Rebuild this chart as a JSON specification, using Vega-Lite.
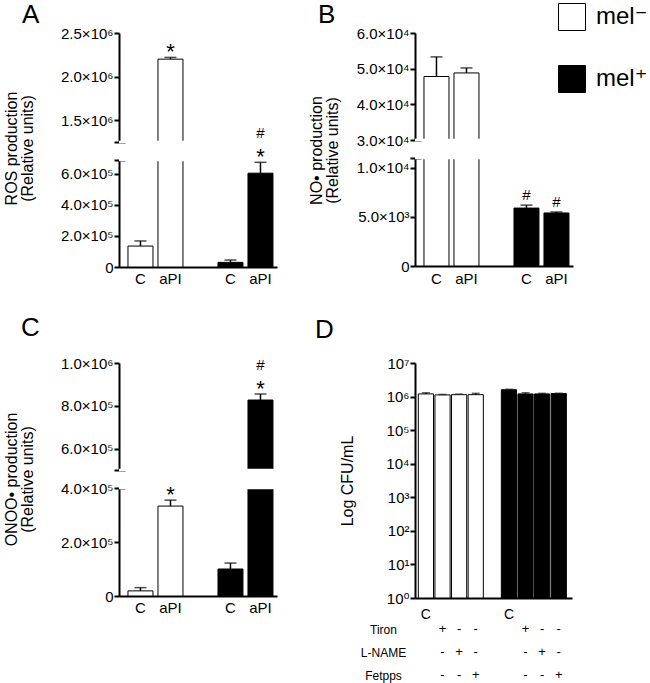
{
"$schema":"https://vega.github.io/schema/vega-lite/v6.json",
"padding":{"left":2,"top":2,"right":5,"bottom":3},
"config":{
 "font":"Liberation Sans, DejaVu Sans, sans-serif",
 "view":{"stroke":null},
 "axis":{"domainColor":"black","domainWidth":2,"tickColor":"black","tickWidth":2,"tickSize":5,"labelColor":"black","labelFontSize":15,"labelPadding":1,"titleColor":"black","titleFontSize":16,"titleFontWeight":"normal","titleLineHeight":16,"grid":false,"zindex":1,"labelFont":"Liberation Sans, DejaVu Sans, sans-serif","titleFont":"Liberation Sans, DejaVu Sans, sans-serif"},
 "title":{"fontSize":26,"fontWeight":"normal","anchor":"start","frame":"group","offset":0,"color":"black","font":"Liberation Sans, DejaVu Sans, sans-serif"},
 "text":{"color":"black"}
},
"datasets":{
 "A":[
  {"pos":"C1","grp":"mel⁻","value":135000,"hi":168000,"seg":"bot","star":"","hash":""},
  {"pos":"aPI1","grp":"mel⁻","value":2200000,"hi":2220000,"seg":"top","star":"*","hash":""},
  {"pos":"C2","grp":"mel⁺","value":30000,"hi":45000,"seg":"bot","star":"","hash":""},
  {"pos":"aPI2","grp":"mel⁺","value":605000,"hi":675000,"seg":"bot","star":"*","hash":"#"}
 ],
 "B":[
  {"pos":"C1","grp":"mel⁻","value":47800,"hi":53300,"seg":"top","star":"","hash":""},
  {"pos":"aPI1","grp":"mel⁻","value":48800,"hi":50200,"seg":"top","star":"","hash":""},
  {"pos":"C2","grp":"mel⁺","value":5900,"hi":6200,"seg":"bot","star":"","hash":"#"},
  {"pos":"aPI2","grp":"mel⁺","value":5400,"hi":5500,"seg":"bot","star":"","hash":"#"}
 ],
 "C":[
  {"pos":"C1","grp":"mel⁻","value":19000,"hi":31000,"seg":"bot","star":"","hash":""},
  {"pos":"aPI1","grp":"mel⁻","value":333000,"hi":355000,"seg":"bot","star":"*","hash":""},
  {"pos":"C2","grp":"mel⁺","value":100000,"hi":122000,"seg":"bot","star":"","hash":""},
  {"pos":"aPI2","grp":"mel⁺","value":827000,"hi":855000,"seg":"top","star":"*","hash":"#"}
 ],
 "D":[
  {"pos":"w1","grp":"mel⁻","value":1200000,"hi":1300000},
  {"pos":"w2","grp":"mel⁻","value":1120000,"hi":1160000},
  {"pos":"w3","grp":"mel⁻","value":1140000,"hi":1180000},
  {"pos":"w4","grp":"mel⁻","value":1140000,"hi":1250000},
  {"pos":"b1","grp":"mel⁺","value":1600000,"hi":1650000},
  {"pos":"b2","grp":"mel⁺","value":1200000,"hi":1300000},
  {"pos":"b3","grp":"mel⁺","value":1200000,"hi":1250000},
  {"pos":"b4","grp":"mel⁺","value":1230000,"hi":1260000}
 ],
 "Dtab":[
  {"pos":"w2","row":"Tiron","sym":"+"},{"pos":"w3","row":"Tiron","sym":"-"},{"pos":"w4","row":"Tiron","sym":"-"},
  {"pos":"b2","row":"Tiron","sym":"+"},{"pos":"b3","row":"Tiron","sym":"-"},{"pos":"b4","row":"Tiron","sym":"-"},
  {"pos":"w2","row":"L-NAME","sym":"-"},{"pos":"w3","row":"L-NAME","sym":"+"},{"pos":"w4","row":"L-NAME","sym":"-"},
  {"pos":"b2","row":"L-NAME","sym":"-"},{"pos":"b3","row":"L-NAME","sym":"+"},{"pos":"b4","row":"L-NAME","sym":"-"},
  {"pos":"w2","row":"Fetpps","sym":"-"},{"pos":"w3","row":"Fetpps","sym":"-"},{"pos":"w4","row":"Fetpps","sym":"+"},
  {"pos":"b2","row":"Fetpps","sym":"-"},{"pos":"b3","row":"Fetpps","sym":"-"},{"pos":"b4","row":"Fetpps","sym":"+"}
 ]
},
"columns":2,
"spacing":{"row":96,"column":138},
"bounds":"flush",
"concat":[
 {
  "width":158,"height":234,
  "data":{"name":"A"},
  "title":{"text":"A","dx":-97,"dy":6},
  "resolve":{"scale":{"y":"independent"}},
  "layer":[
   {"resolve":{"axis":{"y":"independent"}},
    "layer":[
     {"mark":{"type":"bar","stroke":"black","strokeWidth":1},
      "encoding":{
       "x":{"field":"pos","type":"nominal","title":null,"scale":{"domain":["C1","aPI1","gap","C2","aPI2"],"paddingInner":0.167,"paddingOuter":0.217,"align":0.69},"axis":{"labelExpr":"datum.value == 'gap' ? '' : substring(datum.value, 0, length(datum.value) - 1)","ticks":false,"tickSize":0,"labelPadding":4,"labelAngle":0,"labelFontSize":15}},
       "y":{"field":"value","type":"quantitative","scale":{"domain":[0,690000],"range":[234,127],"clamp":true,"nice":false,"zero":false},"axis":{"orient":"left","title":null,"values":[0,200000,400000,600000,690000],"labelExpr":"datum.value > 650000 ? '' : datum.value == 0 ? '0' : format(datum.value/1e5, '.1f') + '×10⁵'"}},
       "color":{"field":"grp","type":"nominal","scale":{"domain":["mel⁻","mel⁺"],"range":["white","black"]},"legend":{"title":null,"orient":"none","legendX":439,"legendY":-30,"symbolType":"square","symbolSize":729,"symbolStrokeColor":"black","symbolStrokeWidth":1,"symbolOpacity":1,"labelFontSize":24,"labelOffset":10,"rowPadding":30,"padding":0,"labelColor":"black","encode":{"symbols":{"update":{"stroke":{"value":"black"},"strokeWidth":{"value":1}}}}}}
      }},
     {"data":{"values":[{}]},"mark":{"type":"rule","color":"white","strokeWidth":2.5},
      "encoding":{"y":{"datum":690000,"type":"quantitative","scale":{"domain":[0,690000],"range":[234,127],"clamp":true,"nice":false,"zero":false},"axis":null}}},
     {"transform":[{"filter":"datum.seg == 'bot'"}],"mark":{"type":"rule","color":"black","strokeWidth":1.5},
      "encoding":{"x":{"field":"pos","type":"nominal","title":null,"scale":{"domain":["C1","aPI1","gap","C2","aPI2"],"paddingInner":0.167,"paddingOuter":0.217,"align":0.69}},
       "y":{"field":"value","type":"quantitative","scale":{"domain":[0,690000],"range":[234,127],"clamp":true,"nice":false,"zero":false},"axis":{"orient":"left","values":[690000],"tickSize":-6,"labels":false,"domain":false,"title":null}},
       "y2":{"field":"hi"}}},
     {"transform":[{"filter":"datum.seg == 'bot'"}],"mark":{"type":"tick","color":"black","thickness":1.5,"size":12},
      "encoding":{"x":{"field":"pos","type":"nominal","title":null,"scale":{"domain":["C1","aPI1","gap","C2","aPI2"],"paddingInner":0.167,"paddingOuter":0.217,"align":0.69}},
       "y":{"field":"hi","type":"quantitative","scale":{"domain":[0,690000],"range":[234,127],"clamp":true,"nice":false,"zero":false},"axis":null}}},
     {"transform":[{"filter":"datum.seg == 'bot' && datum.star != ''"}],"mark":{"type":"text","fontSize":22,"baseline":"alphabetic","dy":2},
      "encoding":{"x":{"field":"pos","type":"nominal","title":null,"scale":{"domain":["C1","aPI1","gap","C2","aPI2"],"paddingInner":0.167,"paddingOuter":0.217,"align":0.69}},
       "y":{"field":"hi","type":"quantitative","scale":{"domain":[0,690000],"range":[234,127],"clamp":true,"nice":false,"zero":false},"axis":null},
       "text":{"field":"star"}}},
     {"transform":[{"filter":"datum.seg == 'bot' && datum.hash != ''"}],"mark":{"type":"text","fontSize":15,"baseline":"alphabetic","dy":-24},
      "encoding":{"x":{"field":"pos","type":"nominal","title":null,"scale":{"domain":["C1","aPI1","gap","C2","aPI2"],"paddingInner":0.167,"paddingOuter":0.217,"align":0.69}},
       "y":{"field":"hi","type":"quantitative","scale":{"domain":[0,690000],"range":[234,127],"clamp":true,"nice":false,"zero":false},"axis":null},
       "text":{"field":"hash"}}}
    ]},
   {"resolve":{"axis":{"y":"independent"}},
    "layer":[
     {"transform":[{"filter":"datum.seg == 'top'"}],"mark":{"type":"bar","stroke":"black","strokeWidth":1},
      "encoding":{
       "x":{"field":"pos","type":"nominal","title":null,"scale":{"domain":["C1","aPI1","gap","C2","aPI2"],"paddingInner":0.167,"paddingOuter":0.217,"align":0.69}},
       "y":{"field":"value","type":"quantitative","scale":{"domain":[1250000,2500000],"range":[109,0],"clamp":true,"nice":false,"zero":false},"axis":{"orient":"left","values":[1250000,1500000,2000000,2500000],"labelExpr":"datum.value < 1300000 ? '' : format(datum.value/1e6, '.1f') + '×10⁶'","title":["ROS production","(Relative units)"],"titleX":-100,"titleY":115}},
       "color":{"field":"grp","type":"nominal","scale":{"domain":["mel⁻","mel⁺"],"range":["white","black"]}}
      }},
     {"data":{"values":[{}]},"mark":{"type":"rule","color":"white","strokeWidth":2.5},
      "encoding":{"y":{"datum":1250000,"type":"quantitative","scale":{"domain":[1250000,2500000],"range":[109,0],"clamp":true,"nice":false,"zero":false},"axis":null}}},
     {"transform":[{"filter":"datum.seg == 'top'"}],"mark":{"type":"rule","color":"black","strokeWidth":1.5},
      "encoding":{"x":{"field":"pos","type":"nominal","title":null,"scale":{"domain":["C1","aPI1","gap","C2","aPI2"],"paddingInner":0.167,"paddingOuter":0.217,"align":0.69}},
       "y":{"field":"value","type":"quantitative","scale":{"domain":[1250000,2500000],"range":[109,0],"clamp":true,"nice":false,"zero":false},"axis":{"orient":"left","values":[1250000],"tickSize":-6,"labels":false,"domain":false,"title":null}},
       "y2":{"field":"hi"}}},
     {"transform":[{"filter":"datum.seg == 'top'"}],"mark":{"type":"tick","color":"black","thickness":1.5,"size":12},
      "encoding":{"x":{"field":"pos","type":"nominal","title":null,"scale":{"domain":["C1","aPI1","gap","C2","aPI2"],"paddingInner":0.167,"paddingOuter":0.217,"align":0.69}},
       "y":{"field":"hi","type":"quantitative","scale":{"domain":[1250000,2500000],"range":[109,0],"clamp":true,"nice":false,"zero":false},"axis":null}}},
     {"transform":[{"filter":"datum.seg == 'top' && datum.star != ''"}],"mark":{"type":"text","fontSize":22,"baseline":"alphabetic","dy":2},
      "encoding":{"x":{"field":"pos","type":"nominal","title":null,"scale":{"domain":["C1","aPI1","gap","C2","aPI2"],"paddingInner":0.167,"paddingOuter":0.217,"align":0.69}},
       "y":{"field":"hi","type":"quantitative","scale":{"domain":[1250000,2500000],"range":[109,0],"clamp":true,"nice":false,"zero":false},"axis":null},
       "text":{"field":"star"}}}
    ]}
  ]
 },
 {
  "width":158,"height":233,
  "data":{"name":"B"},
  "title":{"text":"B","dx":-97,"dy":6},
  "resolve":{"scale":{"y":"independent"}},
  "layer":[
   {"resolve":{"axis":{"y":"independent"}},
    "layer":[
     {"mark":{"type":"bar","stroke":"black","strokeWidth":1},
      "encoding":{
       "x":{"field":"pos","type":"nominal","title":null,"scale":{"domain":["C1","aPI1","gap","C2","aPI2"],"paddingInner":0.167,"paddingOuter":0.217,"align":0.69},"axis":{"labelExpr":"datum.value == 'gap' ? '' : substring(datum.value, 0, length(datum.value) - 1)","ticks":false,"tickSize":0,"labelPadding":5,"labelAngle":0,"labelFontSize":15}},
       "y":{"field":"value","type":"quantitative","scale":{"domain":[0,11000],"range":[233,125],"clamp":true,"nice":false,"zero":false},"axis":{"orient":"left","title":null,"values":[0,5000,10000,11000],"labelExpr":"datum.value > 10500 ? '' : datum.value == 0 ? '0' : datum.value == 5000 ? '5.0×10³' : '1.0×10⁴'"}},
       "color":{"field":"grp","type":"nominal","scale":{"domain":["mel⁻","mel⁺"],"range":["white","black"]}}
      }},
     {"data":{"values":[{}]},"mark":{"type":"rule","color":"white","strokeWidth":2.5},
      "encoding":{"y":{"datum":11000,"type":"quantitative","scale":{"domain":[0,11000],"range":[233,125],"clamp":true,"nice":false,"zero":false},"axis":null}}},
     {"transform":[{"filter":"datum.seg == 'bot'"}],"mark":{"type":"rule","color":"black","strokeWidth":1.5},
      "encoding":{"x":{"field":"pos","type":"nominal","title":null,"scale":{"domain":["C1","aPI1","gap","C2","aPI2"],"paddingInner":0.167,"paddingOuter":0.217,"align":0.69}},
       "y":{"field":"value","type":"quantitative","scale":{"domain":[0,11000],"range":[233,125],"clamp":true,"nice":false,"zero":false},"axis":{"orient":"left","values":[11000],"tickSize":-6,"labels":false,"domain":false,"title":null}},
       "y2":{"field":"hi"}}},
     {"transform":[{"filter":"datum.seg == 'bot'"}],"mark":{"type":"tick","color":"black","thickness":1.5,"size":12},
      "encoding":{"x":{"field":"pos","type":"nominal","title":null,"scale":{"domain":["C1","aPI1","gap","C2","aPI2"],"paddingInner":0.167,"paddingOuter":0.217,"align":0.69}},
       "y":{"field":"hi","type":"quantitative","scale":{"domain":[0,11000],"range":[233,125],"clamp":true,"nice":false,"zero":false},"axis":null}}},
     {"transform":[{"filter":"datum.seg == 'bot' && datum.hash != ''"}],"mark":{"type":"text","fontSize":15,"baseline":"alphabetic","dy":-5},
      "encoding":{"x":{"field":"pos","type":"nominal","title":null,"scale":{"domain":["C1","aPI1","gap","C2","aPI2"],"paddingInner":0.167,"paddingOuter":0.217,"align":0.69}},
       "y":{"field":"hi","type":"quantitative","scale":{"domain":[0,11000],"range":[233,125],"clamp":true,"nice":false,"zero":false},"axis":null},
       "text":{"field":"hash"}}}
    ]},
   {"resolve":{"axis":{"y":"independent"}},
    "layer":[
     {"transform":[{"filter":"datum.seg == 'top'"}],"mark":{"type":"bar","stroke":"black","strokeWidth":1},
      "encoding":{
       "x":{"field":"pos","type":"nominal","title":null,"scale":{"domain":["C1","aPI1","gap","C2","aPI2"],"paddingInner":0.167,"paddingOuter":0.217,"align":0.69}},
       "y":{"field":"value","type":"quantitative","scale":{"domain":[30000,60000],"range":[107,0],"clamp":true,"nice":false,"zero":false},"axis":{"orient":"left","values":[30000,40000,50000,60000],"labelExpr":"format(datum.value/1e4, '.1f') + '×10⁴'","title":["NO• production","(Relative units)"],"titleX":-91,"titleY":117}},
       "color":{"field":"grp","type":"nominal","scale":{"domain":["mel⁻","mel⁺"],"range":["white","black"]}}
      }},
     {"data":{"values":[{}]},"mark":{"type":"rule","color":"white","strokeWidth":2.5},
      "encoding":{"y":{"datum":30000,"type":"quantitative","scale":{"domain":[30000,60000],"range":[107,0],"clamp":true,"nice":false,"zero":false},"axis":null}}},
     {"transform":[{"filter":"datum.seg == 'top'"}],"mark":{"type":"rule","color":"black","strokeWidth":1.5},
      "encoding":{"x":{"field":"pos","type":"nominal","title":null,"scale":{"domain":["C1","aPI1","gap","C2","aPI2"],"paddingInner":0.167,"paddingOuter":0.217,"align":0.69}},
       "y":{"field":"value","type":"quantitative","scale":{"domain":[30000,60000],"range":[107,0],"clamp":true,"nice":false,"zero":false},"axis":{"orient":"left","values":[30000],"tickSize":-6,"labels":false,"domain":false,"title":null}},
       "y2":{"field":"hi"}}},
     {"transform":[{"filter":"datum.seg == 'top'"}],"mark":{"type":"tick","color":"black","thickness":1.5,"size":12},
      "encoding":{"x":{"field":"pos","type":"nominal","title":null,"scale":{"domain":["C1","aPI1","gap","C2","aPI2"],"paddingInner":0.167,"paddingOuter":0.217,"align":0.69}},
       "y":{"field":"hi","type":"quantitative","scale":{"domain":[30000,60000],"range":[107,0],"clamp":true,"nice":false,"zero":false},"axis":null}}}
    ]}
  ]
 },
 {
  "width":158,"height":233,
  "data":{"name":"C"},
  "title":{"text":"C","dx":-98,"dy":-11},
  "resolve":{"scale":{"y":"independent"}},
  "layer":[
   {"resolve":{"axis":{"y":"independent"}},
    "layer":[
     {"mark":{"type":"bar","stroke":"black","strokeWidth":1},
      "encoding":{
       "x":{"field":"pos","type":"nominal","title":null,"scale":{"domain":["C1","aPI1","gap","C2","aPI2"],"paddingInner":0.167,"paddingOuter":0.217,"align":0.69},"axis":{"labelExpr":"datum.value == 'gap' ? '' : substring(datum.value, 0, length(datum.value) - 1)","ticks":false,"tickSize":0,"labelPadding":4,"labelAngle":0,"labelFontSize":15}},
       "y":{"field":"value","type":"quantitative","scale":{"domain":[0,400000],"range":[233,125],"clamp":true,"nice":false,"zero":false},"axis":{"orient":"left","title":null,"values":[0,200000,400000],"labelExpr":"datum.value == 0 ? '0' : format(datum.value/1e5, '.1f') + '×10⁵'"}},
       "color":{"field":"grp","type":"nominal","scale":{"domain":["mel⁻","mel⁺"],"range":["white","black"]}}
      }},
     {"data":{"values":[{}]},"mark":{"type":"rule","color":"white","strokeWidth":2.5},
      "encoding":{"y":{"datum":400000,"type":"quantitative","scale":{"domain":[0,400000],"range":[233,125],"clamp":true,"nice":false,"zero":false},"axis":null}}},
     {"transform":[{"filter":"datum.seg == 'bot'"}],"mark":{"type":"rule","color":"black","strokeWidth":1.5},
      "encoding":{"x":{"field":"pos","type":"nominal","title":null,"scale":{"domain":["C1","aPI1","gap","C2","aPI2"],"paddingInner":0.167,"paddingOuter":0.217,"align":0.69}},
       "y":{"field":"value","type":"quantitative","scale":{"domain":[0,400000],"range":[233,125],"clamp":true,"nice":false,"zero":false},"axis":{"orient":"left","values":[400000],"tickSize":-6,"labels":false,"domain":false,"title":null}},
       "y2":{"field":"hi"}}},
     {"transform":[{"filter":"datum.seg == 'bot'"}],"mark":{"type":"tick","color":"black","thickness":1.5,"size":12},
      "encoding":{"x":{"field":"pos","type":"nominal","title":null,"scale":{"domain":["C1","aPI1","gap","C2","aPI2"],"paddingInner":0.167,"paddingOuter":0.217,"align":0.69}},
       "y":{"field":"hi","type":"quantitative","scale":{"domain":[0,400000],"range":[233,125],"clamp":true,"nice":false,"zero":false},"axis":null}}},
     {"transform":[{"filter":"datum.seg == 'bot' && datum.star != ''"}],"mark":{"type":"text","fontSize":22,"baseline":"alphabetic","dy":2},
      "encoding":{"x":{"field":"pos","type":"nominal","title":null,"scale":{"domain":["C1","aPI1","gap","C2","aPI2"],"paddingInner":0.167,"paddingOuter":0.217,"align":0.69}},
       "y":{"field":"hi","type":"quantitative","scale":{"domain":[0,400000],"range":[233,125],"clamp":true,"nice":false,"zero":false},"axis":null},
       "text":{"field":"star"}}}
    ]},
   {"resolve":{"axis":{"y":"independent"}},
    "layer":[
     {"transform":[{"filter":"datum.seg == 'top'"}],"mark":{"type":"bar","stroke":"black","strokeWidth":1},
      "encoding":{
       "x":{"field":"pos","type":"nominal","title":null,"scale":{"domain":["C1","aPI1","gap","C2","aPI2"],"paddingInner":0.167,"paddingOuter":0.217,"align":0.69}},
       "y":{"field":"value","type":"quantitative","scale":{"domain":[500000,1000000],"range":[107,0],"clamp":true,"nice":false,"zero":false},"axis":{"orient":"left","values":[500000,600000,800000,1000000],"labelExpr":"datum.value < 550000 ? '' : datum.value > 950000 ? '1.0×10⁶' : format(datum.value/1e5, '.1f') + '×10⁵'","title":["ONOO• production","(Relative units)"],"titleX":-100,"titleY":116}},
       "color":{"field":"grp","type":"nominal","scale":{"domain":["mel⁻","mel⁺"],"range":["white","black"]}}
      }},
     {"data":{"values":[{}]},"mark":{"type":"rule","color":"white","strokeWidth":2.5},
      "encoding":{"y":{"datum":500000,"type":"quantitative","scale":{"domain":[500000,1000000],"range":[107,0],"clamp":true,"nice":false,"zero":false},"axis":null}}},
     {"transform":[{"filter":"datum.seg == 'top'"}],"mark":{"type":"rule","color":"black","strokeWidth":1.5},
      "encoding":{"x":{"field":"pos","type":"nominal","title":null,"scale":{"domain":["C1","aPI1","gap","C2","aPI2"],"paddingInner":0.167,"paddingOuter":0.217,"align":0.69}},
       "y":{"field":"value","type":"quantitative","scale":{"domain":[500000,1000000],"range":[107,0],"clamp":true,"nice":false,"zero":false},"axis":{"orient":"left","values":[500000],"tickSize":-6,"labels":false,"domain":false,"title":null}},
       "y2":{"field":"hi"}}},
     {"transform":[{"filter":"datum.seg == 'top'"}],"mark":{"type":"tick","color":"black","thickness":1.5,"size":12},
      "encoding":{"x":{"field":"pos","type":"nominal","title":null,"scale":{"domain":["C1","aPI1","gap","C2","aPI2"],"paddingInner":0.167,"paddingOuter":0.217,"align":0.69}},
       "y":{"field":"hi","type":"quantitative","scale":{"domain":[500000,1000000],"range":[107,0],"clamp":true,"nice":false,"zero":false},"axis":null}}},
     {"transform":[{"filter":"datum.seg == 'top' && datum.star != ''"}],"mark":{"type":"text","fontSize":22,"baseline":"alphabetic","dy":2},
      "encoding":{"x":{"field":"pos","type":"nominal","title":null,"scale":{"domain":["C1","aPI1","gap","C2","aPI2"],"paddingInner":0.167,"paddingOuter":0.217,"align":0.69}},
       "y":{"field":"hi","type":"quantitative","scale":{"domain":[500000,1000000],"range":[107,0],"clamp":true,"nice":false,"zero":false},"axis":null},
       "text":{"field":"star"}}},
     {"transform":[{"filter":"datum.seg == 'top' && datum.hash != ''"}],"mark":{"type":"text","fontSize":15,"baseline":"alphabetic","dy":-24},
      "encoding":{"x":{"field":"pos","type":"nominal","title":null,"scale":{"domain":["C1","aPI1","gap","C2","aPI2"],"paddingInner":0.167,"paddingOuter":0.217,"align":0.69}},
       "y":{"field":"hi","type":"quantitative","scale":{"domain":[500000,1000000],"range":[107,0],"clamp":true,"nice":false,"zero":false},"axis":null},
       "text":{"field":"hash"}}}
    ]}
  ]
 },
 {
  "width":157,"height":235,
  "data":{"name":"D"},
  "title":{"text":"D","dx":-100,"dy":-9},
  "resolve":{"scale":{"y":"independent"}},
  "layer":[
   {"resolve":{"axis":{"y":"independent"}},
    "layer":[
     {"mark":{"type":"bar","stroke":"black","strokeWidth":1},
      "encoding":{
       "x":{"field":"pos","type":"nominal","title":null,"scale":{"domain":["w1","w2","w3","w4","gap","b1","b2","b3","b4"],"paddingInner":0.085,"paddingOuter":0.27,"align":0.37},"axis":{"labelExpr":"datum.value == 'w1' || datum.value == 'b1' ? 'C' : ''","ticks":false,"tickSize":0,"labelPadding":9,"labelAngle":0,"labelFontSize":14}},
       "y":{"field":"value","type":"quantitative","scale":{"type":"log","domain":[1,10000000],"nice":false,"clamp":true},"axis":{"orient":"left","values":[1,10,100,1000,10000,100000,1000000,10000000],"labelExpr":"'10' + ['⁰','¹','²','³','⁴','⁵','⁶','⁷'][round(log(datum.value)/LN10)]","title":"Log CFU/mL","titleX":-60}},
       "y2":{"datum":1},
       "color":{"field":"grp","type":"nominal","scale":{"domain":["mel⁻","mel⁺"],"range":["white","black"]}}
      }},
     {"mark":{"type":"rule","color":"black","strokeWidth":1.5},
      "encoding":{"x":{"field":"pos","type":"nominal","title":null,"scale":{"domain":["w1","w2","w3","w4","gap","b1","b2","b3","b4"],"paddingInner":0.085,"paddingOuter":0.27,"align":0.37}},
       "y":{"field":"value","type":"quantitative","scale":{"type":"log","domain":[1,10000000],"nice":false,"clamp":true},"axis":null},
       "y2":{"field":"hi"}}},
     {"mark":{"type":"tick","color":"#222222","thickness":1.5,"size":8},
      "encoding":{"x":{"field":"pos","type":"nominal","title":null,"scale":{"domain":["w1","w2","w3","w4","gap","b1","b2","b3","b4"],"paddingInner":0.085,"paddingOuter":0.27,"align":0.37}},
       "y":{"field":"hi","type":"quantitative","scale":{"type":"log","domain":[1,10000000],"nice":false,"clamp":true},"axis":null}}}
   ]},
   {"data":{"name":"Dtab"},"mark":{"type":"text","fontSize":13,"baseline":"middle"},
    "encoding":{"x":{"field":"pos","type":"nominal","title":null,"scale":{"domain":["w1","w2","w3","w4","gap","b1","b2","b3","b4"],"paddingInner":0.085,"paddingOuter":0.27,"align":0.37}},
     "y":{"field":"row","type":"nominal","scale":{"type":"point","domain":["Tiron","L-NAME","Fetpps"],"range":[266,312],"padding":0},"axis":{"orient":"left","domain":false,"ticks":false,"tickSize":0,"labelAlign":"center","labelPadding":32,"labelFontSize":12,"title":null}},
     "text":{"field":"sym"}}}
  ]
 }
]
}
